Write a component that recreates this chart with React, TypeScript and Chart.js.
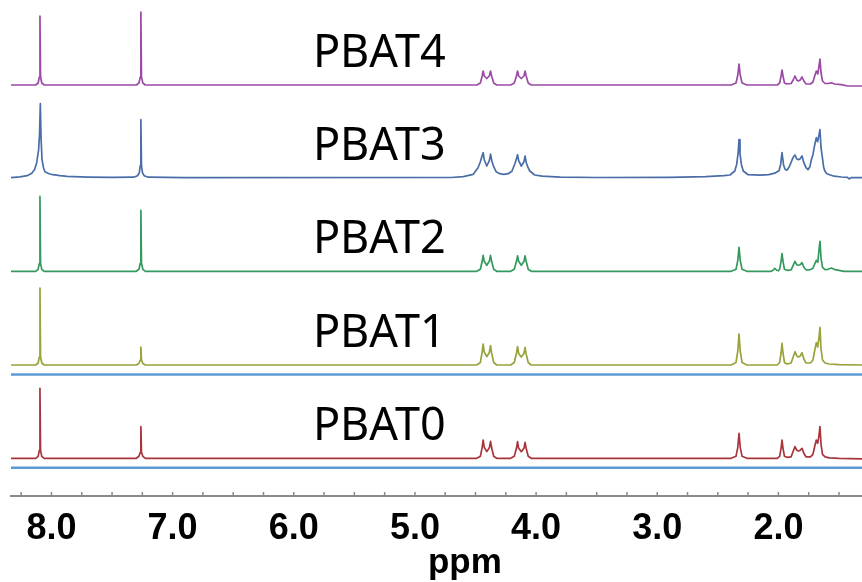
import React, { useEffect, useRef } from 'react';
import { Chart, registerables } from 'chart.js';

Chart.register(...registerables);

// ---- data (ppm, intensity above the sample's own baseline) ----
const SAMPLE_NAMES = ['PBAT0', 'PBAT1', 'PBAT2', 'PBAT3', 'PBAT4'];
const SERIES_COLORS = ['#a8353c', '#9aa23a', '#34995c', '#4a6da8', '#9c4aa6'];

const PBAT0: [number, number][] = [
  [8.334, 0], [8.13, 0], [8.11, 2], [8.1, 8], [8.095, 70], [8.09, 8], [8.08, 2], [8.06, 0],
  [7.3, 0], [7.278, 2], [7.267, 6], [7.262, 31.7], [7.257, 6], [7.246, 2], [7.225, 0],
  [4.49, 0], [4.46, 2], [4.445, 11], [4.437, 18.3], [4.428, 11], [4.407, 6.7], [4.386, 10.5], [4.376, 17], [4.367, 10.5], [4.35, 2], [4.325, 0],
  [4.21, 0], [4.18, 2], [4.162, 10], [4.153, 16.7], [4.144, 10], [4.122, 6.7], [4.1, 10], [4.091, 16], [4.082, 10], [4.065, 2], [4.04, 0],
  [2.39, 0], [2.35, 2], [2.335, 11], [2.325, 25], [2.315, 11], [2.3, 2], [2.26, 0],
  [2.01, 0], [1.99, 2], [1.978, 10], [1.97, 18.3], [1.962, 10], [1.95, 2], [1.93, 1],
  [1.895, 1.5], [1.878, 7], [1.863, 11.7], [1.848, 8], [1.835, 7.3], [1.82, 8], [1.805, 10], [1.79, 5], [1.772, 1.5],
  [1.735, 1.5], [1.715, 4], [1.698, 13], [1.687, 18.3], [1.676, 15], [1.666, 22], [1.657, 31.7], [1.648, 14], [1.636, 4], [1.615, 1.5], [1.58, 0.5], [1.5, 0], [1.31, -0.5],
];

const PBAT1: [number, number][] = [
  [8.334, 0], [8.13, 0], [8.11, 2], [8.1, 8], [8.095, 77], [8.09, 8], [8.08, 2], [8.06, 0],
  [7.3, 0], [7.278, 1.5], [7.267, 5], [7.262, 18], [7.257, 5], [7.246, 1.5], [7.225, 0],
  [4.49, 0], [4.46, 2.5], [4.445, 13], [4.437, 21], [4.428, 13], [4.407, 8.3], [4.386, 12.5], [4.376, 19.3], [4.367, 12], [4.35, 2.5], [4.325, 0],
  [4.21, 0], [4.18, 2.5], [4.162, 12], [4.153, 18.3], [4.144, 11.5], [4.122, 8], [4.1, 11.5], [4.091, 17.7], [4.082, 11], [4.065, 2.5], [4.04, 0],
  [2.39, 0], [2.35, 2.5], [2.335, 14], [2.325, 31], [2.315, 14], [2.3, 2.5], [2.26, 0],
  [2.01, 0], [1.99, 2.5], [1.978, 12], [1.97, 21.7], [1.962, 12], [1.95, 2.5], [1.93, 1],
  [1.895, 2], [1.878, 8], [1.863, 13.3], [1.848, 9], [1.835, 8], [1.82, 9], [1.805, 12.3], [1.79, 6], [1.772, 2],
  [1.735, 2], [1.715, 5], [1.698, 16], [1.687, 22.3], [1.676, 18], [1.666, 26], [1.657, 37.7], [1.648, 16], [1.636, 5], [1.615, 2], [1.58, 1], [1.5, 0.3], [1.31, 0],
];

const PBAT2: [number, number][] = [
  [8.334, 0], [8.13, 0], [8.11, 2], [8.1, 8], [8.095, 75], [8.09, 8], [8.08, 2], [8.06, 0],
  [7.3, 0], [7.278, 2], [7.267, 8], [7.262, 61], [7.257, 8], [7.246, 2], [7.225, 0],
  [4.49, 0], [4.46, 2], [4.445, 10], [4.437, 16], [4.428, 10], [4.407, 6], [4.386, 10], [4.376, 16], [4.367, 10], [4.35, 2], [4.325, 0],
  [4.21, 0], [4.18, 2], [4.162, 10], [4.153, 15.5], [4.144, 10], [4.122, 6], [4.1, 10], [4.091, 15.5], [4.082, 10], [4.065, 2], [4.04, 0],
  [2.39, 0], [2.35, 2], [2.335, 11], [2.325, 24], [2.315, 11], [2.3, 2], [2.26, 0],
  [2.06, 0], [2.045, 1], [2.03, 3], [2.015, 1], [2.0, 0.5], [1.99, 2], [1.978, 10], [1.97, 17.7], [1.962, 10], [1.95, 2], [1.93, 1],
  [1.895, 1.5], [1.878, 6], [1.863, 10], [1.848, 6.5], [1.835, 6], [1.82, 6.5], [1.805, 8.7], [1.79, 4], [1.772, 1.5],
  [1.735, 1.7], [1.715, 3], [1.698, 8], [1.687, 11], [1.675, 9], [1.666, 20], [1.657, 30], [1.648, 13], [1.636, 4], [1.615, 1.7], [1.59, 2], [1.563, 3.3], [1.54, 2], [1.5, 1], [1.46, 0], [1.31, 0],
];

const PBAT3: [number, number][] = [
  [8.334, 0], [8.26, 0.8], [8.2, 2], [8.163, 4.4], [8.14, 8], [8.122, 15], [8.106, 28], [8.098, 45], [8.092, 74], [8.086, 40], [8.078, 18], [8.066, 10], [8.054, 6], [8.02, 4], [7.988, 3], [7.93, 2], [7.87, 1.3], [7.7, 0.6], [7.5, 0.3],
  [7.32, 0.5], [7.29, 2], [7.275, 5], [7.267, 12], [7.262, 58], [7.257, 12], [7.249, 5], [7.235, 2], [7.2, 0.5], [6.9, 0],
  [4.7, 0.2], [4.6, 1], [4.52, 3.3], [4.479, 10], [4.46, 16], [4.448, 21], [4.437, 25], [4.428, 18], [4.407, 11.7], [4.386, 17], [4.376, 23.5], [4.366, 17], [4.35, 11], [4.33, 6], [4.3, 4], [4.267, 3.3], [4.23, 4], [4.2, 6.5], [4.175, 14], [4.162, 19], [4.153, 23], [4.144, 17], [4.122, 11.7], [4.1, 16], [4.091, 21.7], [4.081, 15], [4.066, 10], [4.052, 6.7], [4.011, 2.7], [3.95, 1.5], [3.8, 0.6], [3.5, 0.2],
  [2.9, 0.3], [2.6, 1], [2.45, 2], [2.4, 2.7], [2.36, 6.7], [2.345, 13], [2.333, 24], [2.325, 38], [2.317, 24], [2.305, 13], [2.29, 6.7], [2.25, 3], [2.15, 2.5], [2.08, 3], [2.03, 4.5],
  [1.995, 7], [1.982, 13], [1.97, 25], [1.958, 13], [1.945, 8.5], [1.93, 7.5], [1.91, 11], [1.89, 17], [1.875, 21], [1.863, 22.7], [1.85, 19], [1.835, 18], [1.82, 19], [1.805, 21.7], [1.79, 15], [1.772, 10], [1.756, 8],
  [1.74, 11], [1.728, 18], [1.715, 23], [1.7, 33], [1.687, 40], [1.676, 36], [1.666, 42], [1.657, 48], [1.648, 30], [1.637, 20], [1.627, 11], [1.618, 7], [1.6, 4], [1.577, 3], [1.54, 1.5], [1.48, 0.7], [1.43, 0.3], [1.415, -1.2], [1.4, 0], [1.31, 0],
];

const PBAT4: [number, number][] = [
  [8.334, 0], [8.13, 0], [8.11, 2], [8.1, 8], [8.095, 69], [8.09, 8], [8.08, 2], [8.06, 0],
  [7.3, 0], [7.278, 2], [7.267, 8], [7.262, 73], [7.257, 8], [7.246, 2], [7.225, 0],
  [4.49, 0], [4.46, 2], [4.445, 9], [4.437, 14], [4.428, 9], [4.407, 6.5], [4.386, 9], [4.376, 14], [4.367, 9], [4.35, 2], [4.325, 0],
  [4.21, 0], [4.18, 2], [4.162, 9], [4.153, 14], [4.144, 9], [4.122, 6.5], [4.1, 9], [4.091, 14], [4.082, 9], [4.065, 2], [4.04, 0],
  [2.39, 0], [2.35, 2], [2.335, 10], [2.325, 21], [2.315, 10], [2.3, 2], [2.26, 0],
  [2.01, 0], [1.99, 2], [1.978, 9], [1.97, 15], [1.962, 9], [1.95, 2], [1.93, 1],
  [1.895, 1.5], [1.878, 5], [1.863, 9], [1.848, 5], [1.835, 4], [1.82, 5], [1.805, 8], [1.79, 4], [1.772, 1],
  [1.735, 1], [1.715, 3], [1.698, 10], [1.687, 14], [1.675, 11], [1.666, 18], [1.657, 26], [1.648, 12], [1.636, 4], [1.615, 1.5], [1.59, 1.5], [1.563, 2.2], [1.535, 1], [1.48, 0.3], [1.43, -1], [1.31, -1],
];

const SERIES = [PBAT0, PBAT1, PBAT2, PBAT3, PBAT4];

// light-blue separator lines under PBAT0 and PBAT1 (level relative to those baselines)
const SEPARATOR_SERIES = [0, 1];
const SEPARATOR_LEVEL = -9.5;

const X_MIN = 1.31;
const X_MAX = 8.334;
const TICK_STEP = 0.25;
const AXIS_TITLE = 'ppm';

export default function App() {
  const ref = useRef<HTMLCanvasElement | null>(null);

  useEffect(() => {
    document.body.style.margin = '0';
    const canvas = ref.current;
    if (!canvas) return;

    const H = 582;
    const AXIS_Y = 496;
    const BASELINES = [458.3, 365, 271.3, 177.7, 85];
    const LABEL_PPM = 5.294;
    const LABEL_LIFT = 18;
    const TITLE_PPM = 4.588;
    const TITLE_BASELINE = 573;

    const scales: any = {
      x: {
        type: 'linear',
        reverse: true,
        min: X_MIN,
        max: X_MAX,
        afterBuildTicks: (s: any) => {
          const t: { value: number }[] = [];
          for (let k = Math.ceil(X_MIN / TICK_STEP); k * TICK_STEP <= X_MAX; k++) {
            t.push({ value: Math.round(k * TICK_STEP * 1000) / 1000 });
          }
          s.ticks = t;
        },
        afterFit: (s: any) => {
          s.height = H - AXIS_Y;
        },
        ticks: {
          autoSkip: false,
          maxRotation: 0,
          minRotation: 0,
          padding: 3,
          color: '#000',
          font: { family: "'Liberation Sans', Arial, sans-serif", size: 36, weight: 'bold' },
          callback: (value: any) => {
            const v = Number(value);
            return Math.abs(v - Math.round(v)) < 1e-6 ? v.toFixed(1) : '';
          },
        },
        grid: { display: false },
        border: { display: true, color: '#8a8a8a', width: 2 },
      },
    };
    BASELINES.forEach((b, i) => {
      scales['y' + i] = { type: 'linear', display: false, min: -(AXIS_Y - b), max: b };
    });

    const datasets: any[] = SERIES.map((d, i) => ({
      label: SAMPLE_NAMES[i],
      data: d.map(([x, y]) => ({ x, y })),
      yAxisID: 'y' + i,
      borderColor: SERIES_COLORS[i],
      borderWidth: 1.7,
      pointRadius: 0,
      tension: 0,
      fill: false,
      clip: false,
      borderJoinStyle: 'round',
    }));
    SEPARATOR_SERIES.forEach((si) => {
      datasets.push({
        label: 'sep' + si,
        data: [
          { x: X_MAX, y: SEPARATOR_LEVEL },
          { x: X_MIN, y: SEPARATOR_LEVEL },
        ],
        yAxisID: 'y' + si,
        borderColor: '#5b9bd5',
        borderWidth: 2.5,
        pointRadius: 0,
        fill: false,
      });
    });

    const decor = {
      id: 'decor',
      afterDraw(chart: any) {
        const ctx = chart.ctx;
        const xs = chart.scales.x;
        const { bottom } = chart.chartArea;
        ctx.save();
        ctx.strokeStyle = '#8a8a8a';
        ctx.lineWidth = 1.5;
        xs.ticks.forEach((t: any) => {
          const px = xs.getPixelForValue(t.value);
          ctx.beginPath();
          ctx.moveTo(px, bottom);
          ctx.lineTo(px, bottom - 4);
          ctx.stroke();
        });
        ctx.fillStyle = '#000';
        ctx.textAlign = 'center';
        ctx.textBaseline = 'alphabetic';
        ctx.font = "45px 'Noto Sans', sans-serif";
        SAMPLE_NAMES.forEach((n, i) => {
          const ys = chart.scales['y' + i];
          ctx.fillText(n, xs.getPixelForValue(LABEL_PPM), ys.getPixelForValue(LABEL_LIFT));
        });
        ctx.font = "bold 35px 'Liberation Sans', Arial, sans-serif";
        ctx.fillText(AXIS_TITLE, xs.getPixelForValue(TITLE_PPM), TITLE_BASELINE);
        ctx.restore();
      },
    };

    const chart = new Chart(canvas, {
      type: 'line',
      data: { datasets },
      options: {
        animation: false,
        responsive: false,
        maintainAspectRatio: false,
        layout: { padding: { left: 11, right: 0, top: 0, bottom: 0 } },
        plugins: { legend: { display: false }, tooltip: { enabled: false }, title: { display: false } },
        scales,
      },
      plugins: [decor],
    } as any);

    return () => chart.destroy();
  }, []);

  return (
    <div style={{ width: 862, height: 582, background: '#fff' }}>
      <canvas ref={ref} width={862} height={582} style={{ display: 'block' }} />
    </div>
  );
}
